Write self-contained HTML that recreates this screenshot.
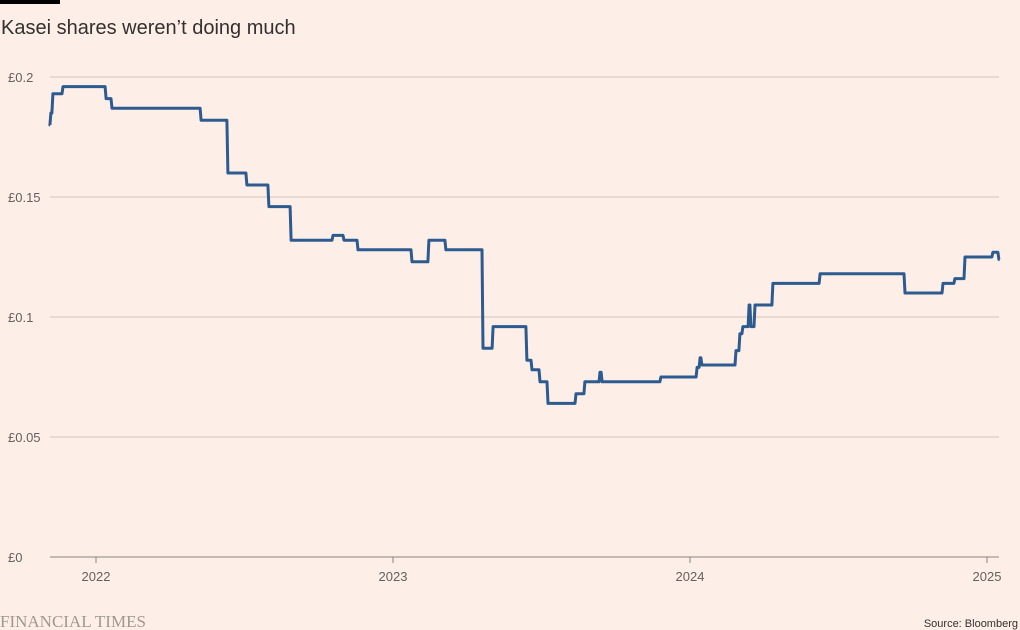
<!DOCTYPE html>
<html><head><meta charset="utf-8"><style>
body{margin:0;background:#fff1e5;}
svg{display:block;font-family:"Liberation Sans",sans-serif;}
</style></head><body>
<svg id="chart" width="1020" height="630" viewBox="0 0 1020 630">
<rect x="0" y="0" width="1020" height="630" fill="#fdefe8"/>
<rect x="0" y="0" width="60" height="4" fill="#000"/>
<text x="1" y="34" font-size="20" fill="#33302e">Kasei shares weren’t doing much</text>
<g id="grid"></g><g id="xaxis"></g>
<path id="line" fill="none" stroke="#2d5b8f" stroke-width="3" stroke-linejoin="round"/>
<text x="0" y="627" font-family="Liberation Serif,serif" font-size="17" fill="#a09890">FINANCIAL TIMES</text>
<text x="1018" y="627" text-anchor="end" font-size="11" fill="#33302e">Source: Bloomberg</text>
</svg>
<script>
const dates=[2021.845,2021.848,2021.855,2021.889,2022.034,2022.054,2022.354,2022.444,2022.508,2022.582,2022.657,2022.798,2022.835,2022.882,2023.064,2023.121,2023.178,2023.303,2023.337,2023.451,2023.468,2023.495,2023.522,2023.616,2023.646,2023.697,2023.704,2023.902,2024.024,2024.034,2024.040,2024.155,2024.168,2024.178,2024.199,2024.205,2024.219,2024.279,2024.438,2024.724,2024.852,2024.892,2024.926,2025.020,2025.040];
const prices=[0.180,0.185,0.193,0.196,0.191,0.187,0.182,0.160,0.155,0.146,0.132,0.134,0.132,0.128,0.123,0.132,0.128,0.087,0.096,0.082,0.078,0.073,0.064,0.068,0.073,0.077,0.073,0.075,0.079,0.083,0.080,0.086,0.093,0.096,0.105,0.096,0.105,0.114,0.118,0.110,0.114,0.116,0.125,0.127,0.124];
const yTicks=[0,0.05,0.1,0.15,0.2];
const yTickLabels=["£0","£0.05","£0.1","£0.15","£0.2"];
const xTicks=[2022,2023,2024,2025];
const xTickLabels=["2022","2023","2024","2025"];
const endDate=2025.043;
const NS="http://www.w3.org/2000/svg";
const x=d=>96+(d-2022)*297;
const y=v=>557-v*2400;
const grid=document.getElementById('grid');
yTicks.forEach((t,i)=>{
  const l=document.createElementNS(NS,'line');
  l.setAttribute('x1',50);l.setAttribute('x2',999);l.setAttribute('y1',y(t));l.setAttribute('y2',y(t));
  l.setAttribute('stroke',t===0?'#8a8580':'#d3c4ba');l.setAttribute('stroke-width',1);
  
  
  grid.appendChild(l);
  const tx=document.createElementNS(NS,'text');
  tx.setAttribute('x',8);tx.setAttribute('y',y(t)+5);tx.setAttribute('font-size',13);tx.setAttribute('fill','#66605c');
  tx.textContent=yTickLabels[i];
  
  
  grid.appendChild(tx);
});
const xa=document.getElementById('xaxis');
xTicks.forEach((t,i)=>{
  const l=document.createElementNS(NS,'line');
  l.setAttribute('x1',x(t));l.setAttribute('x2',x(t));l.setAttribute('y1',557);l.setAttribute('y2',563);
  l.setAttribute('stroke','#8a8580');
  
  
  xa.appendChild(l);
  const tx=document.createElementNS(NS,'text');
  tx.setAttribute('x',x(t));tx.setAttribute('y',581);tx.setAttribute('font-size',13);tx.setAttribute('fill','#66605c');tx.setAttribute('text-anchor','middle');
  tx.textContent=xTickLabels[i];
  
  
  xa.appendChild(tx);
});
let d='M'+x(dates[0]).toFixed(1)+','+y(prices[0]).toFixed(1);
for(let i=1;i<dates.length;i++){
  const xi=x(dates[i]);
  d+=' L'+(xi-1).toFixed(1)+','+y(prices[i-1]).toFixed(1)+' L'+xi.toFixed(1)+','+y(prices[i]).toFixed(1);
}
d+=' L'+x(endDate).toFixed(1)+','+y(prices[prices.length-1]).toFixed(1);
document.getElementById('line').setAttribute('d',d);
</script>
</body></html>
